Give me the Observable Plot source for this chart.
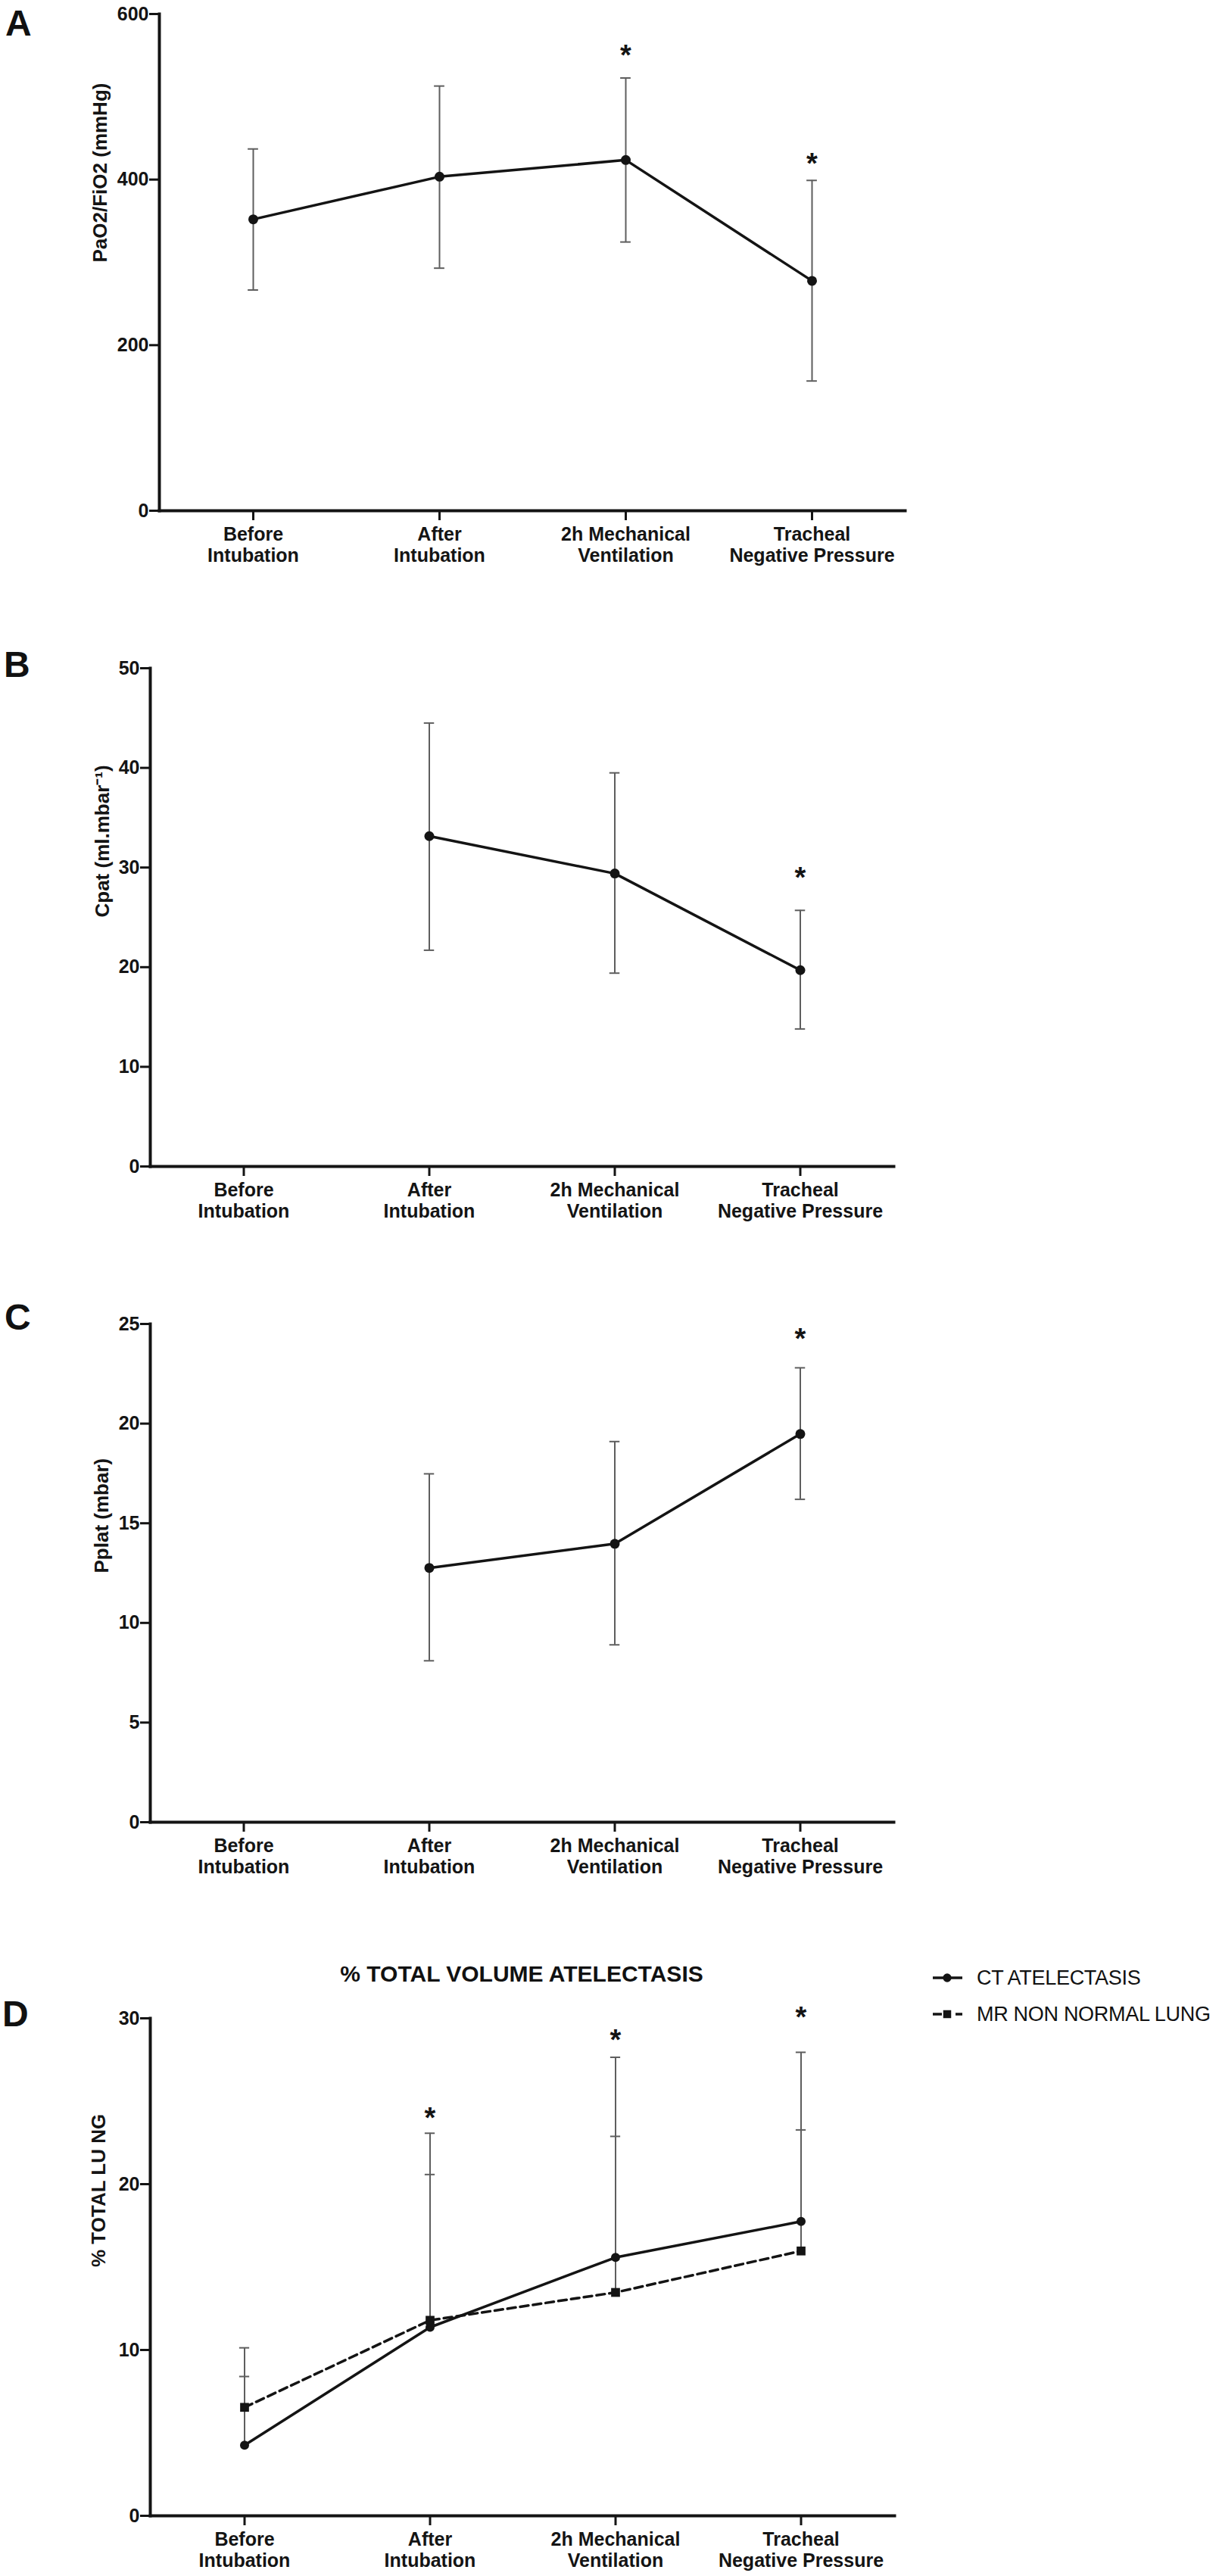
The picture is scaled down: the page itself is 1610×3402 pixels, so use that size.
<!DOCTYPE html>
<html>
<head>
<meta charset="utf-8">
<script src="https://cdn.jsdelivr.net/npm/d3@7"></script>
<script src="https://cdn.jsdelivr.net/npm/@observablehq/plot@0.6"></script>
<style>
  body { margin: 0; background: #fff; }
  #wrap { position: relative; width: 1610px; height: 3402px; font-family: "Liberation Sans", Arial, sans-serif; color: #111; overflow: hidden; }
  .panel { position: absolute; left: 0; }
  .letter { position: absolute; font-weight: bold; font-size: 48px; line-height: 1; }
  .title { position: absolute; font-weight: bold; font-size: 30px; line-height: 1; text-align: center; white-space: nowrap; }
  .legtext { position: absolute; font-size: 27px; line-height: 1; white-space: nowrap; letter-spacing: -0.3px; }
  .legsym { position: absolute; }
</style>
</head>
<body>
<div id="wrap"></div>
<script>
// ---------- data ----------
const categories = ["Before\nIntubation", "After\nIntubation", "2h Mechanical\nVentilation", "Tracheal\nNegative Pressure"];

// Panel A: PaO2/FiO2 (mmHg)
const paoMean = [352, 403.5, 423.6, 277.7];
const paoLow  = [266.6, 293, 324.6, 156.7];
const paoHigh = [437, 513, 522.7, 399];
const paoStars = [null, null, 558.6, 428];
const paoTicks = [0, 200, 400, 600];

// Panel B: Cpat (ml.mbar-1)
const cpatMean = [null, 33.15, 29.4, 19.7];
const cpatLow  = [null, 21.7, 19.4, 13.8];
const cpatHigh = [null, 44.5, 39.5, 25.7];
const cpatStars = [null, null, null, 29.65];
const cpatTicks = [0, 10, 20, 30, 40, 50];

// Panel C: Pplat (mbar)
const pplatMean = [null, 12.76, 13.97, 19.48];
const pplatLow  = [null, 8.1, 8.9, 16.2];
const pplatHigh = [null, 17.48, 19.1, 22.8];
const pplatStars = [null, null, null, 24.6];
const pplatTicks = [0, 5, 10, 15, 20, 25];

// Panel D: % total lung
const ctMean = [4.26, 11.37, 15.58, 17.75];
const ctHigh = [10.13, 23.07, 27.65, 27.95];
const mrMean = [6.54, 11.79, 13.47, 15.97];
const mrHigh = [8.4, 20.58, 22.88, 23.27];
const atelStars = [null, 24.43, 29.14, 30.5];
const atelTicks = [0, 10, 20, 30];
const seriesNames = ["CT ATELECTASIS", "MR NON NORMAL LUNG"];

// ---------- drawing ----------
const W = 1610;
const FONT = '"Liberation Sans", Arial, sans-serif';
const INK = "#141414";
const BAR = "#5e5e5e";
const wrap = document.getElementById("wrap");

function makePanel(cfg) {
  const {top, marginLeft, marginRight, marginTop, plotHeight, marginBottom = 80,
         yDomain, yTicks, yLabel, labelDx, series, stars} = cfg;
  const height = marginTop + plotHeight + marginBottom;
  const band = (W - marginLeft - marginRight) / categories.length;
  const capInset = (band - 14) / 2;
  const marks = [];
  for (const s of series) {
    const rows = categories.map((c, i) => ({cat: c, mean: s.mean[i], lo: s.low ? s.low[i] : s.mean[i], hi: s.high[i]}))
      .filter(d => d.mean != null);
    marks.push(Plot.ruleX(rows, {x: "cat", y1: "lo", y2: "hi", stroke: BAR, strokeWidth: 2}));
    marks.push(Plot.tickY(rows, {x: "cat", y: "hi", stroke: BAR, strokeWidth: 2, insetLeft: capInset, insetRight: capInset}));
    if (s.low) marks.push(Plot.tickY(rows, {x: "cat", y: "lo", stroke: BAR, strokeWidth: 2, insetLeft: capInset, insetRight: capInset}));
  }
  for (const s of series) {
    const rows = categories.map((c, i) => ({cat: c, mean: s.mean[i]})).filter(d => d.mean != null);
    marks.push(Plot.line(rows, {x: "cat", y: "mean", stroke: INK, strokeWidth: 3.5, strokeDasharray: s.dash || null}));
    marks.push(Plot.dot(rows, {x: "cat", y: "mean", fill: INK, stroke: null, symbol: s.symbol || "circle", r: s.r || 6.5}));
  }
  const starRows = categories.map((c, i) => ({cat: c, v: stars[i]})).filter(d => d.v != null);
  marks.push(Plot.text(starRows, {x: "cat", y: "v", text: () => "*", fontSize: 38, fontWeight: "bold", fill: INK, dy: 10}));
  marks.push(Plot.frame({anchor: "left", stroke: INK, strokeWidth: 4}));
  marks.push(Plot.frame({anchor: "bottom", stroke: INK, strokeWidth: 4}));
  marks.push(Plot.axisY({ticks: yTicks, tickSize: 13, tickPadding: 1, fontSize: 25, fontWeight: "bold",
                         strokeWidth: 3, stroke: INK, fill: INK, label: null, tickFormat: d => String(d)}));
  marks.push(Plot.axisX({tickSize: 13, tickPadding: 7, fontSize: 25, fontWeight: "bold", lineHeight: 1.12,
                         strokeWidth: 3, stroke: INK, fill: INK, label: null, tickFormat: d => d}));
  marks.push(Plot.text([yLabel], {frameAnchor: "left", text: d => d, rotate: -90, dx: labelDx,
                                  fontSize: 26, fontWeight: "bold", fill: INK}));
  const chart = Plot.plot({
    width: W, height, marginLeft, marginRight, marginTop, marginBottom,
    x: {type: "band", domain: categories, padding: 0},
    y: {domain: yDomain},
    style: {background: "transparent", overflow: "visible", fontFamily: FONT, color: INK},
    marks
  });
  const div = document.createElement("div");
  div.className = "panel";
  div.style.top = top + "px";
  div.appendChild(chart);
  wrap.appendChild(div);
}

function addText(cls, txt, left, top, width) {
  const d = document.createElement("div");
  d.className = cls;
  d.textContent = txt;
  d.style.left = left + "px";
  d.style.top = top + "px";
  if (width) d.style.width = width + "px";
  wrap.appendChild(d);
}

// A
makePanel({top: 0, marginLeft: 210, marginRight: 415, marginTop: 18, plotHeight: 656,
  yDomain: [0, 600], yTicks: paoTicks, yLabel: "PaO2/FiO2 (mmHg)", labelDx: -78,
  series: [{mean: paoMean, low: paoLow, high: paoHigh}], stars: paoStars});
// B
makePanel({top: 800, marginLeft: 198, marginRight: 430, marginTop: 82, plotHeight: 658,
  yDomain: [0, 50], yTicks: cpatTicks, yLabel: "Cpat (ml.mbar\u207B\u00B9)", labelDx: -63,
  series: [{mean: cpatMean, low: cpatLow, high: cpatHigh}], stars: cpatStars});
// C
makePanel({top: 1660, marginLeft: 198, marginRight: 430, marginTop: 88, plotHeight: 658,
  yDomain: [0, 25], yTicks: pplatTicks, yLabel: "Pplat (mbar)", labelDx: -64,
  series: [{mean: pplatMean, low: pplatLow, high: pplatHigh}], stars: pplatStars});
// D
makePanel({top: 2580, marginLeft: 198, marginRight: 429, marginTop: 85, plotHeight: 657, marginBottom: 80,
  yDomain: [0, 30], yTicks: atelTicks, yLabel: "% TOTAL LU NG", labelDx: -68,
  series: [
    {mean: ctMean, high: ctHigh, symbol: "circle", r: 6},
    {mean: mrMean, high: mrHigh, symbol: "square", r: 6.6, dash: "11,6"}
  ], stars: atelStars});

// panel letters
addText("letter", "A", 7, 7);
addText("letter", "B", 5, 854);
addText("letter", "C", 6, 1716);
addText("letter", "D", 3, 2636);

// panel D title
addText("title", "% TOTAL VOLUME ATELECTASIS", 0, 2592, 1378);

// legend
function legendRow(i, cy, dashed, square) {
  const ns = "http://www.w3.org/2000/svg";
  const svg = document.createElementNS(ns, "svg");
  svg.setAttribute("width", 40); svg.setAttribute("height", 20);
  svg.setAttribute("class", "legsym");
  svg.style.left = "1232px"; svg.style.top = (cy - 10) + "px";
  const ln = document.createElementNS(ns, "line");
  ln.setAttribute("x1", 0); ln.setAttribute("x2", 39); ln.setAttribute("y1", 10); ln.setAttribute("y2", 10);
  ln.setAttribute("stroke", INK); ln.setAttribute("stroke-width", 3.5);
  if (dashed) ln.setAttribute("stroke-dasharray", "12,6,6,6");
  svg.appendChild(ln);
  const sym = document.createElementNS(ns, "path");
  sym.setAttribute("d", d3.symbol(square ? d3.symbolSquare : d3.symbolCircle, square ? 110 : 100)());
  sym.setAttribute("transform", "translate(19,10)");
  sym.setAttribute("fill", INK);
  svg.appendChild(sym);
  wrap.appendChild(svg);
  addText("legtext", seriesNames[i], 1290, cy - 13.5);
}
legendRow(0, 2612, false, false);
legendRow(1, 2660, true, true);
</script>
</body>
</html>
